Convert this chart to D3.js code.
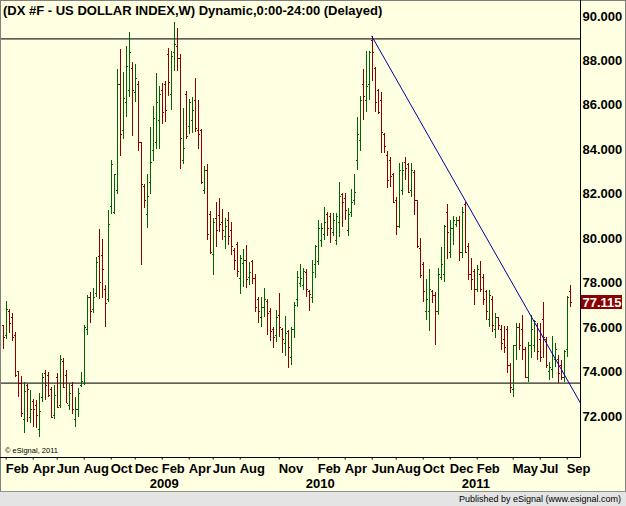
<!DOCTYPE html>
<html>
<head>
<meta charset="utf-8">
<script src="https://cdn.jsdelivr.net/npm/d3@7"></script>
<style>
html, body { margin: 0; padding: 0; background: #fff; }
svg { display: block; }
text { font-family: "Liberation Sans", Arial, sans-serif; }
</style>
</head>
<body>
<div id="chart"></div>
<script>
// weekly OHLC bars, the first one is the week of Mon 28 Jan 2008
const firstWeek = "2008-01-28";

const opens = [
  76.04, 75.59, 76.67, 76.40, 75.59, 73.97, 73.43, 71.81, 73.38, 71.90, 72.62, 72.48, 71.36, 72.84, 73.92, 73.83, 73.16, 72.03, 73.70, 72.48,
  74.42, 73.83, 72.48, 73.38, 71.81, 72.26, 73.38, 73.47, 75.86, 77.30, 76.76, 77.52, 79.14, 79.20, 77.66, 77.21,
  81.39, 81.16, 82.15, 86.88, 84.85, 86.07, 86.65, 87.64, 86.56, 86.88, 84.27, 82.33, 81.03, 82.47, 83.95, 84.27, 85.30, 86.65, 86.88, 88.23,
  86.47, 88.32, 88.63, 88.05, 83.50, 86.43, 84.99, 85.30, 86.20, 84.85, 84.85, 82.15, 83.05,
  81.03, 79.23, 80.85, 81.00, 80.67, 80.04, 80.80, 80.35, 79.45, 79.68, 78.15, 78.83, 79.00, 78.20, 78.92, 78.15, 77.21, 76.40, 76.85, 77.12,
  76.67, 75.86, 75.63, 76.49, 75.86, 75.27, 75.77, 74.64, 75.86, 77.21, 77.97, 77.88, 78.42, 77.61, 77.30, 78.78, 78.92,
  79.90, 80.13, 81.07, 80.98, 80.26, 79.86, 80.71, 81.93, 81.79, 80.35, 81.12, 81.70, 83.50, 84.40, 86.90, 86.20, 86.88, 88.90, 87.60, 86.65,
  86.20, 84.63, 83.70, 83.50, 82.83, 81.70,
  80.49, 82.15, 83.41, 83.28, 82.15, 82.96, 81.70, 79.54, 78.78, 76.67, 76.67, 77.57, 77.43, 76.67, 78.20, 78.33, 81.16, 79.36, 80.44, 80.58,
  80.80, 79.36, 81.48, 79.59, 78.33, 78.47, 77.66, 78.33, 78.20, 77.57, 76.31, 77.21, 75.86, 76.40, 75.86, 75.41, 75.86, 74.28, 73.16, 75.18,
  75.95, 75.86, 74.96, 73.70, 75.18, 75.18, 76.08, 75.41, 76.31, 75.41, 73.97, 74.06, 74.51, 74.51, 74.28, 73.70, 74.96, 77.57
];
const highs = [
  76.08, 77.16, 76.80, 76.62, 75.77, 74.01, 73.79, 73.52, 73.43, 73.16, 72.75, 72.71, 73.02, 73.92, 74.06, 73.97, 73.29, 73.38, 73.92, 74.73,
  74.60, 74.06, 73.47, 73.52, 72.84, 73.25, 73.97, 76.08, 77.43, 77.57, 77.75, 79.14, 80.40, 79.95, 77.88, 81.25,
  83.50, 82.87, 87.60, 88.50, 87.46, 88.63, 89.26, 87.91, 87.82, 87.06, 84.27, 82.42, 82.87, 84.99, 85.93, 87.42, 86.83, 86.97, 87.06, 88.54,
  88.41, 89.71, 89.44, 88.27, 85.84, 86.61, 86.25, 86.34, 87.19, 86.20, 84.90, 83.23, 83.32,
  81.21, 80.89, 81.61, 81.79, 81.30, 80.89, 81.16, 80.71, 79.54, 79.81, 79.23, 79.50, 79.68, 78.92, 79.01, 78.38, 77.34, 77.34, 77.75, 77.25,
  76.85, 75.99, 76.76, 77.52, 75.95, 76.49, 75.86, 75.99, 77.12, 78.51, 78.83, 78.65, 78.60, 77.66, 79.01, 79.68, 80.80,
  80.67, 81.39, 81.16, 81.12, 81.12, 81.12, 82.51, 82.02, 82.02, 81.34, 82.20, 82.87, 85.44, 86.38, 87.60, 88.41, 88.41, 89.08, 87.69, 86.70,
  86.56, 84.72, 83.90, 83.64, 82.92, 81.84,
  83.37, 83.41, 83.64, 83.37, 83.37, 83.05, 81.70, 79.99, 78.92, 78.15, 78.60, 77.66, 77.57, 78.65, 79.59, 80.58, 81.52, 80.80, 80.98, 80.94,
  80.98, 81.39, 81.61, 79.77, 79.09, 78.60, 78.78, 78.96, 78.38, 77.66, 77.66, 77.39, 76.62, 76.44, 76.08, 76.04, 76.04, 74.37, 75.18, 76.17,
  76.17, 76.53, 75.09, 75.32, 76.53, 76.31, 76.17, 76.17, 77.12, 75.54, 74.42, 75.59, 75.27, 74.73, 74.51, 74.95, 77.40, 77.88
];
const lows = [
  75.00, 75.45, 75.72, 75.36, 73.74, 72.84, 71.94, 71.22, 71.72, 71.67, 71.49, 71.45, 71.04, 72.62, 72.71, 72.84, 71.90, 71.85, 72.35, 72.35,
  73.25, 72.57, 72.26, 72.08, 71.49, 71.94, 73.29, 73.38, 75.63, 76.17, 76.62, 77.34, 77.25, 77.30, 76.00, 77.12,
  81.07, 81.07, 81.97, 83.68, 84.45, 85.44, 86.34, 84.58, 86.11, 83.91, 78.78, 81.34, 80.44, 81.97, 83.46, 84.00, 84.00, 85.12, 85.21, 86.38,
  85.75, 87.51, 87.51, 83.10, 83.32, 84.45, 84.67, 84.72, 84.76, 84.00, 82.42, 81.97, 79.90,
  79.27, 78.33, 79.59, 80.26, 79.90, 79.50, 79.68, 79.23, 78.56, 78.24, 77.48, 77.79, 77.75, 77.88, 77.93, 76.67, 76.17, 75.99, 76.44, 75.63,
  75.36, 75.05, 75.32, 75.54, 74.82, 74.69, 74.15, 74.28, 75.50, 76.89, 77.79, 77.66, 77.34, 76.71, 77.07, 78.20, 78.78,
  79.59, 79.90, 80.08, 79.77, 80.08, 79.68, 80.04, 80.49, 80.80, 80.08, 80.94, 81.48, 83.05, 83.91, 85.30, 85.66, 86.20, 87.06, 85.66, 85.57,
  83.82, 83.82, 82.24, 82.29, 81.57, 80.13,
  80.44, 81.93, 82.60, 82.00, 81.84, 81.03, 79.54, 78.20, 77.12, 76.31, 75.81, 77.07, 75.18, 76.53, 78.11, 78.02, 79.05, 79.09, 79.68, 80.49,
  78.96, 79.09, 79.32, 78.11, 77.66, 76.98, 77.57, 77.57, 76.98, 76.31, 75.99, 75.77, 75.50, 75.86, 74.96, 74.82, 73.92, 73.02, 72.84, 74.51,
  74.96, 74.51, 73.70, 73.52, 74.60, 74.87, 74.51, 74.42, 74.60, 74.15, 73.61, 73.70, 74.19, 73.47, 73.61, 73.52, 74.64, 76.89
];
const closes = [
  75.54, 76.76, 76.17, 75.54, 73.80, 73.43, 72.12, 73.11, 73.20, 72.26, 72.26, 72.03, 72.17, 73.74, 73.34, 72.93, 71.94, 72.93, 72.35, 74.51,
  73.29, 72.57, 72.98, 72.26, 72.30, 73.02, 73.52, 75.99, 77.34, 76.67, 77.34, 78.87, 78.00, 78.56, 77.07, 80.58,
  83.32, 82.83, 86.92, 84.63, 86.29, 87.69, 88.36, 86.65, 87.19, 84.27, 82.38, 81.70, 81.88, 83.41, 85.39, 86.07, 86.47, 85.62, 85.75, 87.01,
  88.14, 88.68, 88.05, 84.49, 84.04, 84.54, 86.07, 85.75, 84.90, 84.67, 82.47, 83.01, 80.13,
  79.35, 80.67, 80.35, 80.60, 80.31, 80.49, 80.08, 79.59, 78.96, 78.47, 79.05, 79.00, 78.11, 78.42, 78.15, 76.89, 76.67, 76.89, 77.25, 76.62,
  75.77, 75.54, 76.44, 75.95, 75.41, 75.72, 75.05, 75.90, 76.94, 78.20, 78.15, 78.47, 77.66, 77.45, 78.42, 79.59, 80.44,
  80.44, 80.71, 80.44, 80.44, 80.80, 80.98, 81.84, 81.57, 81.25, 81.03, 81.57, 82.02, 84.67, 86.20, 86.34, 86.83, 88.36, 88.32, 86.10, 85.65,
  84.72, 84.09, 82.60, 82.74, 81.61, 80.49,
  83.05, 83.05, 83.14, 82.06, 83.01, 81.70, 79.59, 78.29, 77.57, 77.21, 77.66, 77.39, 76.67, 78.33, 78.78, 80.49, 80.26, 80.44, 80.80, 80.80,
  79.32, 81.12, 79.36, 78.33, 78.11, 77.66, 78.56, 77.66, 77.21, 76.67, 77.43, 76.08, 76.44, 76.08, 75.27, 75.05, 74.28, 73.25, 75.14, 75.99,
  75.18, 74.96, 73.74, 75.18, 75.86, 76.22, 74.87, 74.64, 75.54, 74.28, 74.19, 74.73, 74.96, 73.92, 73.70, 74.87, 77.34, 77.115
];

// axis labels
const priceTicks = [72, 74, 76, 78, 80, 82, 84, 86, 88, 90];
const monthTicks = ["2008-02", "2008-04", "2008-06", "2008-08", "2008-10", "2008-12",
  "2009-02", "2009-04", "2009-06", "2009-08", "2009-11",
  "2010-02", "2010-04", "2010-06", "2010-08", "2010-10", "2010-12",
  "2011-02", "2011-05", "2011-07", "2011-09"];
const yearTicks = ["2009", "2010", "2011"];

// drawn lines: two horizontal levels and the falling trend line
const levels = [88.95, 73.47];
const trendLine = [["2010-06-07", 89.08], ["2011-10-10", 72.47]];

const title = "(DX #F - US DOLLAR INDEX,W) Dynamic,0:00-24:00 (Delayed)";

// size
const width = 626, height = 506;
const plotRight = 580.5, plotBottom = 457.5;
const bg = "#ffffe1";
const upColor = "#006400", downColor = "#8b0000";

const parseDay = d3.utcParse("%Y-%m-%d");
const parseMonth = d3.utcParse("%Y-%m");
const parseYear = d3.utcParse("%Y");

const start = parseDay(firstWeek);
const bars = opens.map((o, i) => ({
  date: d3.utcWeek.offset(start, i),
  open: o, high: highs[i], low: lows[i], close: closes[i]
}));

const svg = d3.select("#chart")
  .append("svg")
  .attr("width", width)
  .attr("height", height);

// background and frame
svg.append("rect")
  .attr("x", 0.5).attr("y", 0.5)
  .attr("width", width - 1).attr("height", 491)
  .attr("fill", bg)
  .attr("stroke", "#808080");

// status bar
svg.append("rect")
  .attr("x", 0).attr("y", 491.5)
  .attr("width", width).attr("height", 15)
  .attr("fill", "#e4e4e4");
svg.append("line")
  .attr("x1", 0).attr("x2", width)
  .attr("y1", 491.5).attr("y2", 491.5)
  .attr("stroke", "#909090");
svg.append("text")
  .attr("x", 621).attr("y", 502)
  .attr("text-anchor", "end")
  .style("font-size", "9px")
  .text("Published by eSignal (www.esignal.com)");

// scales: one bar every 3 px
const x = d3.scaleUtc()
  .domain([bars[0].date, bars[bars.length - 1].date])
  .range([2.7, 2.7 + 3 * (bars.length - 1)]);

const y = d3.scaleLinear()
  .domain([72, 90])
  .range([415.7, 15.6]);

svg.append("clipPath")
  .attr("id", "plot")
  .append("rect")
  .attr("x", 1).attr("y", 1)
  .attr("width", plotRight - 1).attr("height", plotBottom - 1);

const plot = svg.append("g").attr("clip-path", "url(#plot)");

// horizontal levels
plot.selectAll(".level")
  .data(levels)
  .enter().append("line")
  .attr("class", "level")
  .attr("x1", 1).attr("x2", plotRight)
  .attr("y1", d => y(d)).attr("y2", d => y(d))
  .attr("stroke", "#2a2a2a")
  .attr("stroke-width", 1.3);

// OHLC bars
const px = d => Math.round(x(d.date)) + 0.5;
plot.selectAll(".bar")
  .data(bars)
  .enter().append("path")
  .attr("class", "bar")
  .attr("d", d => {
    const c = px(d);
    return `M${c},${y(d.high)}V${y(d.low)}` +
      `M${c - 1.5},${y(d.open)}H${c}` +
      `M${c},${y(d.close)}H${c + 1.5}`;
  })
  .attr("fill", "none")
  .attr("stroke", d => d.close >= d.open ? upColor : downColor)
  .attr("stroke-width", 1)
  .attr("shape-rendering", "crispEdges");

// trend line
plot.append("path")
  .datum(trendLine)
  .attr("fill", "none")
  .attr("stroke", "#0000a0")
  .attr("stroke-width", 1)
  .attr("d", d3.line()
    .x(d => x(parseDay(d[0])))
    .y(d => y(d[1])));

// plot borders
svg.append("line")
  .attr("x1", plotRight).attr("x2", plotRight)
  .attr("y1", 0).attr("y2", plotBottom)
  .attr("stroke", "#000");
svg.append("line")
  .attr("x1", 0).attr("x2", plotRight)
  .attr("y1", plotBottom).attr("y2", plotBottom)
  .attr("stroke", "#000");

// title
svg.append("text")
  .attr("x", 3).attr("y", 14.5)
  .style("font-size", "13px")
  .style("font-weight", "bold")
  .text(title);

svg.append("text")
  .attr("x", 5).attr("y", 453)
  .style("font-size", "7.5px")
  .text("\u00a9 eSignal, 2011");

// price axis on the right
const yAxis = svg.append("g")
  .attr("transform", `translate(${plotRight},0)`)
  .call(d3.axisRight(y).tickValues(priceTicks).tickSize(0).tickPadding(2)
    .tickFormat(d3.format(".3f")));
yAxis.select(".domain").remove();
yAxis.selectAll("text")
  .attr("fill", "#000")
  .attr("dy", "0.34em")
  .style("font-size", "13px")
  .style("font-weight", "bold")
  .style("font-family", "'Liberation Sans', Arial, sans-serif");

// last price marker
const last = bars[bars.length - 1].close;
svg.append("rect")
  .attr("x", 581).attr("y", y(last) - 7)
  .attr("width", 41).attr("height", 14)
  .attr("fill", "#8b0000");
svg.append("text")
  .attr("x", 582.5).attr("y", y(last) + 4.5)
  .attr("fill", "#fff")
  .style("font-size", "13px")
  .style("font-weight", "bold")
  .text(d3.format(".3f")(last));

// time axis: labels start at the first weekly bar of the month
const firstBar = d => d3.utcMonday.ceil(d);
const xAxis = svg.append("g")
  .attr("transform", `translate(0,${plotBottom})`)
  .call(d3.axisBottom(x)
    .tickValues(monthTicks.map(m => firstBar(parseMonth(m))))
    .tickSize(2)
    .tickFormat(d3.utcFormat("%b")));
xAxis.select(".domain").remove();
xAxis.selectAll(".tick line").attr("stroke", "#000");
xAxis.selectAll("text")
  .attr("fill", "#000")
  .attr("text-anchor", "start")
  .attr("x", -0.5)
  .attr("y", 15)
  .attr("dy", null)
  .style("font-size", "13px")
  .style("font-weight", "bold")
  .style("font-family", "'Liberation Sans', Arial, sans-serif");

const yearAxis = svg.append("g")
  .attr("transform", `translate(0,${plotBottom})`)
  .call(d3.axisBottom(x)
    .tickValues(yearTicks.map(yr => firstBar(parseYear(yr))))
    .tickSize(0)
    .tickFormat(d3.utcFormat("%Y")));
yearAxis.select(".domain").remove();
yearAxis.selectAll("text")
  .attr("fill", "#000")
  .attr("text-anchor", "start")
  .attr("x", -0.5)
  .attr("y", 30.5)
  .attr("dy", null)
  .style("font-size", "13px")
  .style("font-weight", "bold")
  .style("font-family", "'Liberation Sans', Arial, sans-serif");
</script>
</body>
</html>
